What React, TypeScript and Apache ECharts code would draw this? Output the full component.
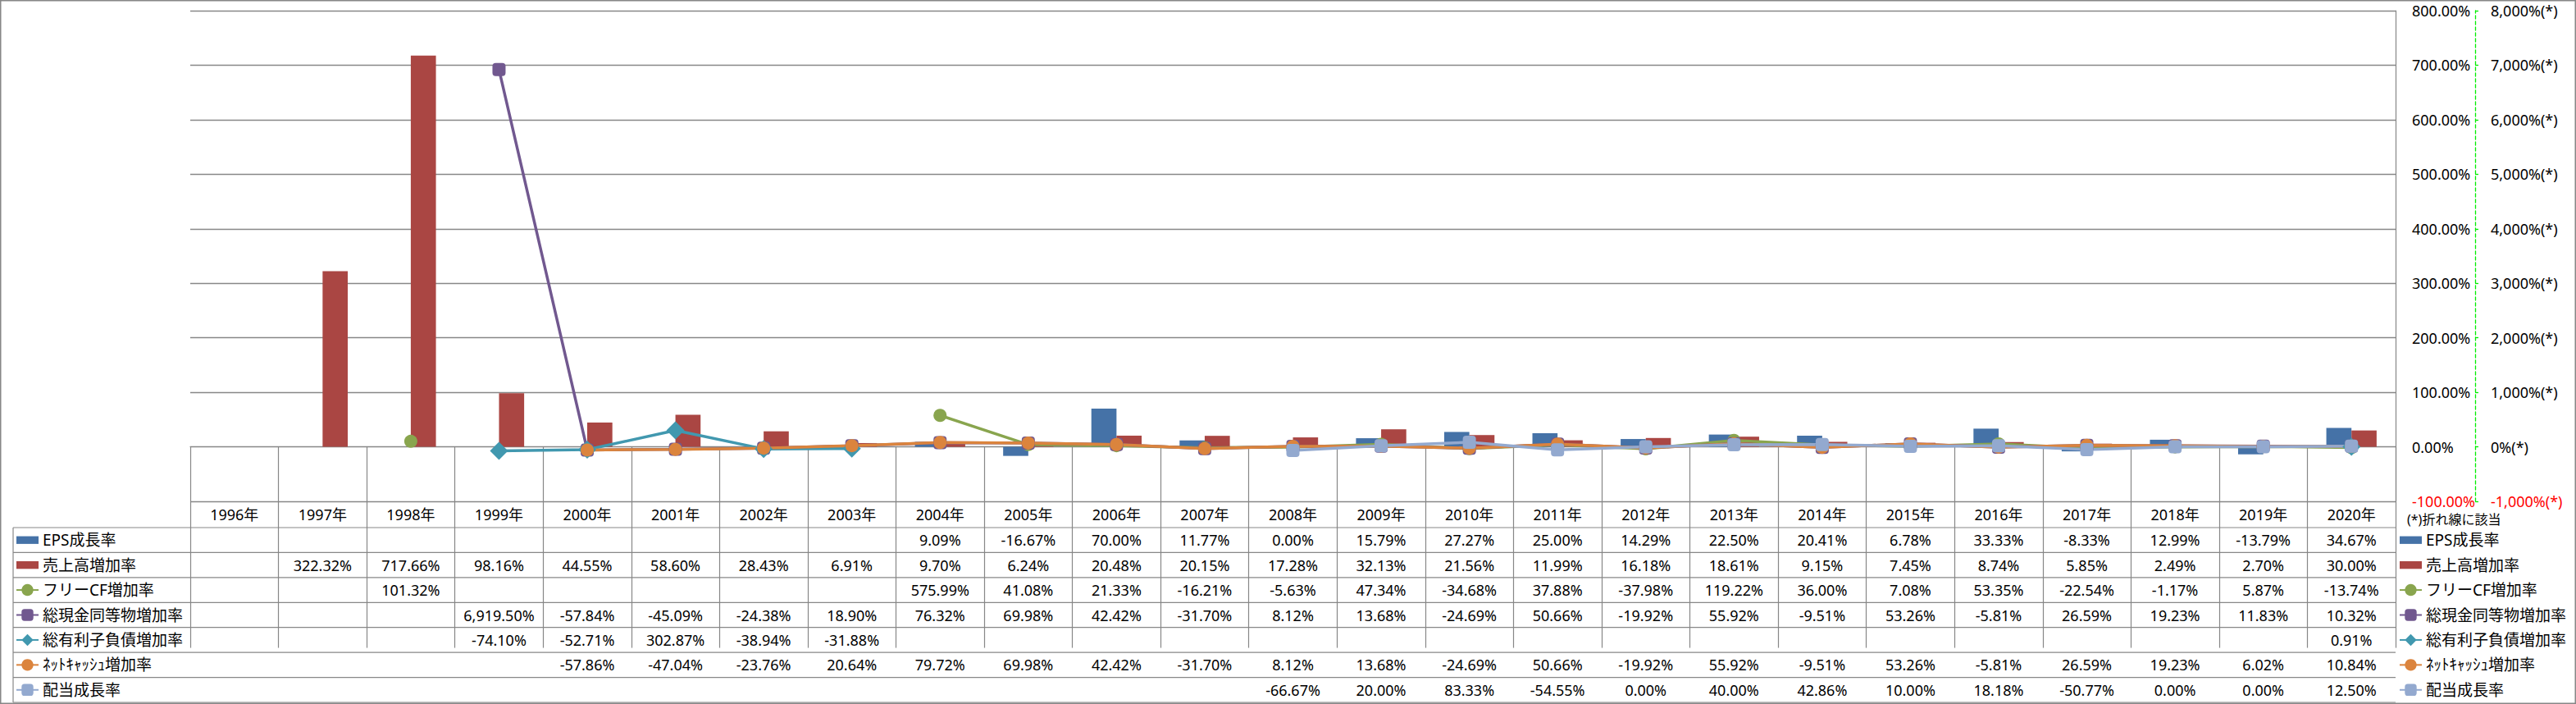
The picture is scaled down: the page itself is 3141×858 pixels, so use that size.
import React, { useEffect, useRef } from "react";
import * as echarts from "echarts";

const YEARS = [
  "1996年", "1997年", "1998年", "1999年", "2000年", "2001年", "2002年", "2003年", "2004年",
  "2005年", "2006年", "2007年", "2008年", "2009年", "2010年", "2011年", "2012年", "2013年",
  "2014年", "2015年", "2016年", "2017年", "2018年", "2019年", "2020年",
];

const EPS_GROWTH = [null, null, null, null, null, null, null, null, 9.09, -16.67, 70.0, 11.77, 0.0, 15.79, 27.27, 25.0, 14.29, 22.5, 20.41, 6.78, 33.33, -8.33, 12.99, -13.79, 34.67];
const SALES_GROWTH = [null, 322.32, 717.66, 98.16, 44.55, 58.6, 28.43, 6.91, 9.7, 6.24, 20.48, 20.15, 17.28, 32.13, 21.56, 11.99, 16.18, 18.61, 9.15, 7.45, 8.74, 5.85, 2.49, 2.7, 30.0];
const FCF_GROWTH = [null, null, 101.32, null, null, null, null, null, 575.99, 41.08, 21.33, -16.21, -5.63, 47.34, -34.68, 37.88, -37.98, 119.22, 36.0, 7.08, 53.35, -22.54, -1.17, 5.87, -13.74];
const CASH_GROWTH = [null, null, null, 6919.5, -57.84, -45.09, -24.38, 18.9, 76.32, 69.98, 42.42, -31.7, 8.12, 13.68, -24.69, 50.66, -19.92, 55.92, -9.51, 53.26, -5.81, 26.59, 19.23, 11.83, 10.32];
const DEBT_GROWTH = [null, null, null, -74.1, -52.71, 302.87, -38.94, -31.88, null, null, null, null, null, null, null, null, null, null, null, null, null, null, null, null, 0.91];
const NETCASH_GROWTH = [null, null, null, null, -57.86, -47.04, -23.76, 20.64, 79.72, 69.98, 42.42, -31.7, 8.12, 13.68, -24.69, 50.66, -19.92, 55.92, -9.51, 53.26, -5.81, 26.59, 19.23, 6.02, 10.84];
const DIV_GROWTH = [null, null, null, null, null, null, null, null, null, null, null, null, -66.67, 20.0, 83.33, -54.55, 0.0, 40.0, 42.86, 10.0, 18.18, -50.77, 0.0, 0.0, 12.5];

const SERIES_NAMES = ["EPS成長率", "売上高増加率", "フリーCF増加率", "総現金同等物増加率", "総有利子負債増加率", "ﾈｯﾄｷｬｯｼｭ増加率", "配当成長率"];
const SERIES_VALUES = [EPS_GROWTH, SALES_GROWTH, FCF_GROWTH, CASH_GROWTH, DEBT_GROWTH, NETCASH_GROWTH, DIV_GROWTH];
const COLORS = ["#4572A7", "#AA4643", "#89A54E", "#71588F", "#4198AF", "#DB843D", "#93A9CF"];
const SYMBOLS = ["", "", "circle", "roundRect", "diamond", "circle", "roundRect"];
const SYMBOL_SIZES = [0, 0, 16, 16, 22, 16, 16];

const BAR_MIN = -100, BAR_MAX = 800, BAR_STEP = 100;
const LINE_MIN = -1000, LINE_MAX = 8000, LINE_STEP = 1000;
const NOTE = "(*)折れ線に該当";

const FONT = "'Noto Sans', 'Noto Sans CJK JP', sans-serif";
const GRAY = "#878787";

// layout
const W = 3141, H = 858;
const PLOT_L = 232, PLOT_R = 2921, PLOT_T = 13, PLOT_B = 611;
const TABLE_HEAD_B = 643, TABLE_B = 856, TABLE_L = 16;
const ROW_H = (TABLE_B - TABLE_HEAD_B) / 7;

function fmt(v: number | null) {
  if (v === null || v === undefined) return "";
  return v.toLocaleString("en-US", { minimumFractionDigits: 2, maximumFractionDigits: 2 }) + "%";
}

export default function App() {
  const ref = useRef<HTMLDivElement>(null);
  useEffect(() => {
    document.body.style.margin = "0";
    const chart = echarts.init(ref.current!, null, { renderer: "svg" });

    const rowCenter = (i: number) => TABLE_HEAD_B + ROW_H * (i + 0.5);

    const rowAxes = SERIES_VALUES.map((vals, i) => ({
      type: "category",
      gridIndex: 0,
      position: "bottom",
      data: YEARS,
      axisLine: { show: false },
      axisTick: { show: false },
      splitLine: { show: false },
      axisLabel: {
        interval: 0,
        margin: rowCenter(i) - PLOT_B,
        verticalAlign: "middle",
        fontSize: 18,
        fontFamily: FONT,
        color: "#000",
        formatter: (_v: string, idx: number) => fmt(vals[idx] as number | null),
      },
    }));

    const series: any[] = SERIES_NAMES.map((name, i) => {
      if (i < 2) {
        return {
          name,
          type: "bar",
          xAxisIndex: 0,
          yAxisIndex: 0,
          data: SERIES_VALUES[i],
          barGap: "0%",
          barCategoryGap: "43%",
          itemStyle: { color: COLORS[i] },
        };
      }
      return {
        name,
        type: "line",
        xAxisIndex: 0,
        yAxisIndex: 1,
        data: SERIES_VALUES[i],
        symbol: SYMBOLS[i],
        symbolSize: SYMBOL_SIZES[i],
        showSymbol: true,
        showAllSymbol: true,
        connectNulls: false,
        lineStyle: { color: COLORS[i], width: 3.5 },
        itemStyle: { color: COLORS[i] },
      };
    });

    const legendData = SERIES_NAMES.map((name, i) =>
      i < 2 ? { name, icon: "path://M0 0H26V9H0Z" } : { name }
    );
    const legendCommon = {
      orient: "vertical",
      top: rowCenter(0) - 10,
      padding: 0,
      itemGap: ROW_H - 20,
      itemWidth: 27,
      itemHeight: 18,
      selectedMode: false,
      textStyle: { fontSize: 19, fontFamily: FONT, color: "#000", lineHeight: 20 },
      data: legendData,
    };

    chart.setOption({
      animation: false,
      backgroundColor: "#fff",
      grid: { left: PLOT_L, right: W - PLOT_R, top: PLOT_T, bottom: H - PLOT_B, containLabel: false },
      legend: [
        { ...legendCommon, left: 19 },
        { ...legendCommon, left: 2925 },
      ],
      xAxis: [
        {
          type: "category",
          gridIndex: 0,
          position: "bottom",
          data: YEARS,
          axisLine: { show: true, lineStyle: { color: GRAY, width: 1.2 } },
          axisTick: { show: true, length: TABLE_B - PLOT_B, interval: 0, lineStyle: { color: GRAY, width: 1.2 } },
          axisLabel: {
            interval: 0,
            margin: (PLOT_B + TABLE_HEAD_B) / 2 - PLOT_B,
            verticalAlign: "middle",
            fontSize: 18,
            fontFamily: FONT,
            color: "#000",
          },
          splitLine: { show: false },
        },
        ...rowAxes,
      ],
      yAxis: [
        {
          type: "value",
          position: "right",
          min: BAR_MIN,
          max: BAR_MAX,
          interval: BAR_STEP,
          axisLine: { show: true, lineStyle: { color: GRAY, width: 1.2 } },
          axisTick: { show: false },
          splitLine: { show: true, lineStyle: { color: GRAY, width: 1.3 } },
          axisLabel: {
            margin: 20,
            fontSize: 18,
            fontFamily: FONT,
            color: "#000",
            formatter: (v: number) => {
              const t = v.toFixed(2) + "%";
              return v < 0 ? `{neg|${t}}` : t;
            },
            rich: { neg: { color: "#ff0000", fontSize: 18, fontFamily: FONT } },
          },
        },
        {
          type: "value",
          position: "right",
          offset: 97,
          min: LINE_MIN,
          max: LINE_MAX,
          interval: LINE_STEP,
          axisLine: { show: true, lineStyle: { color: "#00ee00", width: 1.3, type: [4, 3] } },
          axisTick: { show: true, inside: false, length: 4, lineStyle: { color: "#00ee00", width: 1.3 } },
          splitLine: { show: false },
          axisLabel: {
            margin: 19,
            fontSize: 18,
            fontFamily: FONT,
            color: "#000",
            formatter: (v: number) => {
              const t = v.toLocaleString("en-US") + "%(*)";
              return v < 0 ? `{neg|${t}}` : t;
            },
            rich: { neg: { color: "#ff0000", fontSize: 18, fontFamily: FONT } },
          },
        },
      ],
      graphic: [
        {
          type: "rect",
          silent: true,
          z: -1,
          shape: { x: 0.75, y: 0.75, width: W - 1.5, height: H - 1.5 },
          style: { fill: "none", stroke: GRAY, lineWidth: 1.5 },
        },
        ...Array.from({ length: 8 }, (_, i) => ({
          type: "line",
          silent: true,
          shape: { x1: TABLE_L, y1: TABLE_HEAD_B + ROW_H * i, x2: PLOT_R, y2: TABLE_HEAD_B + ROW_H * i },
          style: { stroke: GRAY, lineWidth: 1.2 },
        })),
        {
          type: "line",
          silent: true,
          shape: { x1: TABLE_L, y1: TABLE_HEAD_B, x2: TABLE_L, y2: TABLE_B },
          style: { stroke: GRAY, lineWidth: 1.2 },
        },
        {
          type: "text",
          silent: true,
          x: 2935,
          y: 633,
          style: {
            text: NOTE,
            fontSize: 16,
            fontFamily: FONT,
            fill: "#000",
            verticalAlign: "middle",
            align: "left",
          },
        },
      ],
      series,
    });
    return () => chart.dispose();
  }, []);
  return <div ref={ref} style={{ width: W, height: H }} />;
}
